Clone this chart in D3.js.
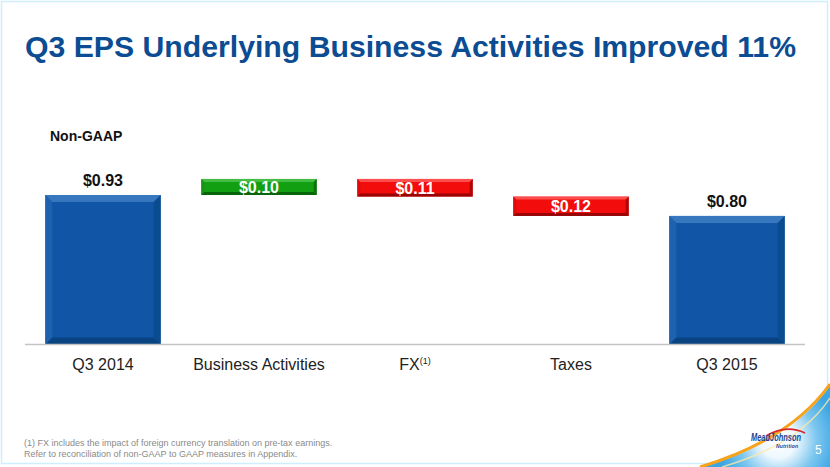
<!DOCTYPE html>
<html lang="en">

<head>
    <meta charset="UTF-8">
    <title>Q3 EPS Underlying Business Activities Improved 11%</title>
    <style>
        body {
            margin: 0;
            padding: 0;
            background: #fff;
        }

        svg {
            display: block;
            font-family: "Liberation Sans", Arial, sans-serif;
        }

        .axis-label {
            font-size: 16px;
            fill: #222;
            text-anchor: middle;
        }

        .value-label {
            font-size: 16px;
            font-weight: bold;
            text-anchor: middle;
        }
    </style>
</head>

<body>

    <svg width="830" height="467"></svg>

    <script src="https://d3js.org/d3.v7.min.js"></script>
    <script>
        // Chart data (EPS bridge, Non-GAAP)
        const categories = ["Q3 2014", "Business Activities", "FX", "Taxes", "Q3 2015"];
        const amounts = [0.93, 0.10, -0.11, -0.12, 0.80];
        const kinds = ["total", "increase", "decrease", "decrease", "total"];
        const valueLabels = ["$0.93", "$0.10", "$0.11", "$0.12", "$0.80"];

        const svg = d3.select("svg");
        const width = 830;
        const height = 467;

        // Slide frame
        svg.append("rect")
            .attr("x", 1.5).attr("y", 1.5)
            .attr("width", width - 4).attr("height", height - 5)
            .attr("fill", "none")
            .attr("stroke", "#cdeefc")
            .attr("stroke-width", 1.5);

        // Title
        svg.append("text")
            .attr("x", 25)
            .attr("y", 57)
            .attr("font-size", 30)
            .attr("font-weight", "bold")
            .attr("fill", "#0b4c93")
            .attr("textLength", 771)
            .attr("lengthAdjust", "spacingAndGlyphs")
            .text("Q3 EPS Underlying Business Activities Improved 11%");

        svg.append("text")
            .attr("x", 50)
            .attr("y", 141)
            .attr("font-size", 14)
            .attr("font-weight", "bold")
            .attr("fill", "#111")
            .text("Non-GAAP");

        // Build waterfall start/end from running total
        let running = 0;
        const steps = categories.map((c, i) => {
            let start, end;
            if (kinds[i] === "total") {
                start = 0;
                end = amounts[i];
                running = amounts[i];
            } else {
                start = running;
                end = running + amounts[i];
                running = end;
            }
            return { name: c, start: start, end: end, kind: kinds[i], label: valueLabels[i] };
        });

        const x = d3.scaleBand()
            .domain(categories)
            .range([25, 805])
            .paddingInner(0.26)
            .paddingOuter(0.13);

        const y = d3.scaleLinear()
            .domain([0, 1.1])
            .range([344.5, 344.5 - 160.75 * 1.1]);

        const palette = {
            total: { main: "#1156a6", top: "#3d7cc2", left: "#2164b0", right: "#0b4a8c", bottom: "#083f7a", text: "#111" },
            increase: { main: "#12a012", top: "#4cc24c", left: "#1a8f1a", right: "#0b6a0b", bottom: "#085a08", text: "#fff" },
            decrease: { main: "#f20c0c", top: "#ff5a5a", left: "#d80a0a", right: "#a00606", bottom: "#8a0505", text: "#fff" }
        };

        // Bevelled bars
        const bars = svg.selectAll(".bar")
            .data(steps)
            .enter()
            .append("g")
            .attr("class", "bar");

        bars.each(function (d) {
            const g = d3.select(this);
            const c = palette[d.kind];
            const x0 = x(d.name);
            const x1 = x0 + x.bandwidth();
            const yTop = y(Math.max(d.start, d.end));
            const yBot = y(Math.min(d.start, d.end));
            const b = d.kind === "total" ? 7 : 3;

            g.append("rect")
                .attr("x", x0).attr("y", yTop)
                .attr("width", x1 - x0).attr("height", yBot - yTop)
                .attr("fill", c.main);

            const faces = [
                { pts: [[x0, yTop], [x1, yTop], [x1 - b, yTop + b], [x0 + b, yTop + b]], fill: c.top },
                { pts: [[x0, yTop], [x0 + b, yTop + b], [x0 + b, yBot - b], [x0, yBot]], fill: c.left },
                { pts: [[x1, yTop], [x1, yBot], [x1 - b, yBot - b], [x1 - b, yTop + b]], fill: c.right },
                { pts: [[x0, yBot], [x0 + b, yBot - b], [x1 - b, yBot - b], [x1, yBot]], fill: c.bottom }
            ];
            g.selectAll("polygon")
                .data(faces)
                .enter()
                .append("polygon")
                .attr("points", f => f.pts.map(p => p.join(",")).join(" "))
                .attr("fill", f => f.fill)
                .attr("opacity", 0.85);

            // Value label: above totals, inside floating bars
            g.append("text")
                .attr("class", "value-label")
                .attr("x", x0 + x.bandwidth() / 2)
                .attr("y", d.kind === "total" ? yTop - 9 : (yTop + yBot) / 2 + 6)
                .attr("fill", c.text)
                .text(d.label);
        });

        // Baseline
        svg.append("line")
            .attr("x1", 25).attr("x2", 805)
            .attr("y1", y(0)).attr("y2", y(0))
            .attr("stroke", "#c4c4c4")
            .attr("stroke-width", 1.5);

        // Category labels
        const labels = svg.selectAll(".axis-label")
            .data(categories)
            .enter()
            .append("text")
            .attr("class", "axis-label")
            .attr("x", d => x(d) + x.bandwidth() / 2)
            .attr("y", 370);

        labels.append("tspan").text(d => d);
        labels.filter(d => d === "FX")
            .append("tspan")
            .attr("font-size", 9)
            .attr("dy", -6)
            .text("(1)");

        // Footnote
        const notes = [
            "(1) FX includes the impact of foreign currency translation on pre-tax earnings.",
            "Refer to reconciliation of non-GAAP to GAAP measures in Appendix."
        ];
        svg.selectAll(".note")
            .data(notes)
            .enter()
            .append("text")
            .attr("class", "note")
            .attr("x", 24)
            .attr("y", (d, i) => 446 + i * 11)
            .attr("font-size", 9)
            .attr("fill", "#8a8a8a")
            .text(d => d);

        // Corner swoosh with logo
        const defs = svg.append("defs");
        const glow = defs.append("radialGradient")
            .attr("id", "glow")
            .attr("cx", 778).attr("cy", 440).attr("r", 60)
            .attr("gradientUnits", "userSpaceOnUse");
        glow.append("stop").attr("offset", "0%").attr("stop-color", "#ffffff");
        glow.append("stop").attr("offset", "30%").attr("stop-color", "#eef8fe");
        glow.append("stop").attr("offset", "65%").attr("stop-color", "#7cc6ef");
        glow.append("stop").attr("offset", "100%").attr("stop-color", "#3aa6e4");

        svg.append("path")
            .attr("d", "M702,467 Q790,442 830,386 L830,467 Z")
            .attr("fill", "url(#glow)");
        svg.append("path")
            .attr("d", "M700,467 Q790,440 830,384")
            .attr("fill", "none")
            .attr("stroke", "#f7a21b")
            .attr("stroke-width", 3);
        svg.append("path")
            .attr("d", "M722,467 Q800,444 830,398")
            .attr("fill", "none")
            .attr("stroke", "#fde9a6")
            .attr("stroke-width", 1.5)
            .attr("opacity", 0.8);

        svg.append("path")
            .attr("d", "M766,436 Q786,424 805,433")
            .attr("fill", "none")
            .attr("stroke", "#d7262e")
            .attr("stroke-width", 1.6);
        svg.append("text")
            .attr("x", 751).attr("y", 441)
            .attr("font-size", 10)
            .attr("font-weight", "bold")
            .attr("font-style", "italic")
            .attr("fill", "#1d3f8e")
            .attr("textLength", 50)
            .attr("lengthAdjust", "spacingAndGlyphs")
            .text("MeadJohnson");
        svg.append("text")
            .attr("x", 776).attr("y", 447.5)
            .attr("font-size", 5)
            .attr("font-weight", "bold")
            .attr("font-style", "italic")
            .attr("fill", "#1d3f8e")
            .attr("textLength", 22)
            .text("Nutrition");

        svg.append("text")
            .attr("x", 815).attr("y", 454)
            .attr("font-size", 12)
            .attr("fill", "#fff")
            .text("5");
    </script>

</body>

</html>
